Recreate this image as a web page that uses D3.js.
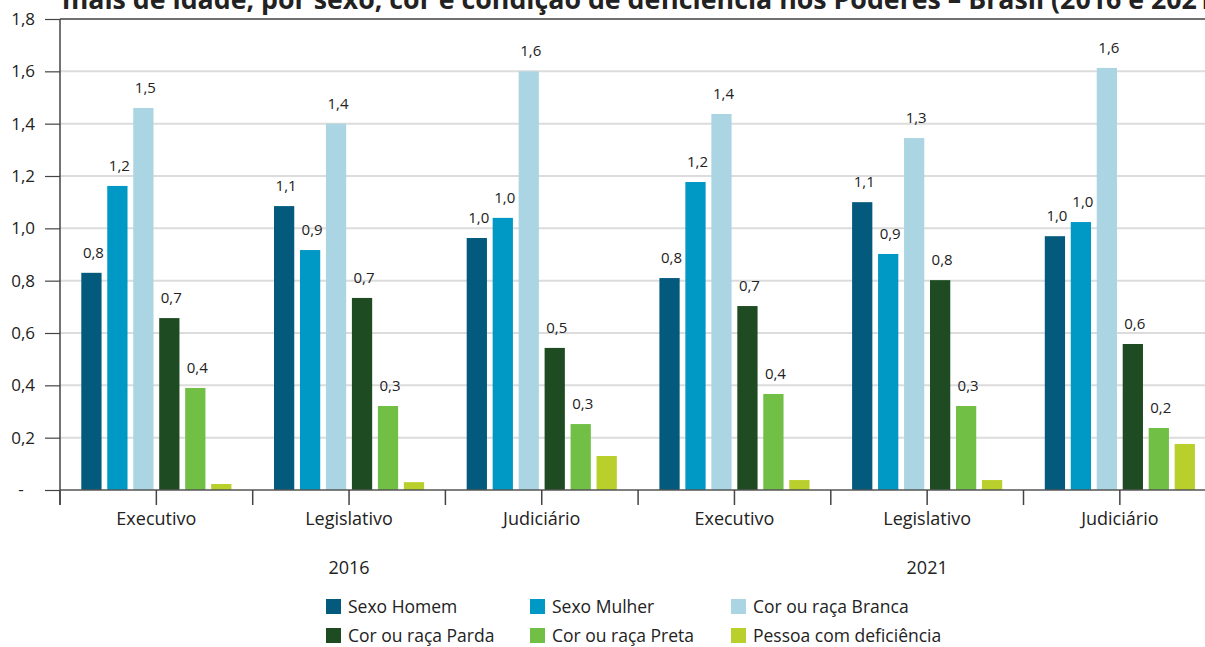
<!DOCTYPE html>
<html>
<head>
<meta charset="utf-8">
<script src="https://cdn.jsdelivr.net/npm/d3@7"></script>
<style>
  body { margin: 0; background: #fff; }
  svg { display: block; font-family: "Open Sans", sans-serif; }
</style>
</head>
<body>
<div class="chart"></div>
<script>
var svgWidth = 1205;
var svgHeight = 647;

// chart data
var poderes = ["Executivo", "Legislativo", "Judiciário", "Executivo", "Legislativo", "Judiciário"];
var anos = ["2016", "2021"];
var seriesNames = ["Sexo Homem", "Sexo Mulher", "Cor ou raça Branca", "Cor ou raça Parda", "Cor ou raça Preta", "Pessoa com deficiência"];
var homem = [0.83, 1.085, 0.963, 0.81, 1.10, 0.97];
var mulher = [1.162, 0.917, 1.04, 1.177, 0.902, 1.024];
var branca = [1.46, 1.40, 1.60, 1.437, 1.345, 1.613];
var parda = [0.657, 0.734, 0.543, 0.703, 0.802, 0.558];
var preta = [0.39, 0.321, 0.252, 0.367, 0.321, 0.237];
var deficiencia = [0.023, 0.03, 0.13, 0.038, 0.038, 0.176];
var yTicks = [0, 0.2, 0.4, 0.6, 0.8, 1.0, 1.2, 1.4, 1.6, 1.8];
var titleText = "mais de idade, por sexo, cor e condição de deficiência nos Poderes – Brasil (2016 e 2021)";

var colors = ["#035a7d", "#0098c4", "#acd5e3", "#1e4b21", "#72bf45", "#b9cf2b"];
var seriesValues = [homem, mulher, branca, parda, preta, deficiencia];
var showLabel = [true, true, true, true, true, false];

var margin = { top: 19, left: 60, bottom: 490 };
var groupWidth = 192.7;

var svg = d3.select(".chart")
  .append("svg")
  .attr("width", svgWidth)
  .attr("height", svgHeight);

// scales
var yScale = d3.scaleLinear()
  .domain([0, 1.8])
  .range([490, 19]);

var x0 = d3.scaleBand()
  .domain(d3.range(poderes.length))
  .range([margin.left, margin.left + groupWidth * poderes.length]);

var x1 = d3.scaleBand()
  .domain(d3.range(seriesNames.length))
  .range([0, groupWidth])
  .paddingInner(0.22)
  .paddingOuter(0.82);

// title (second line of the original title, cut at the top)
var title = svg.append("text")
  .attr("x", 62)
  .attr("y", 9)
  .attr("fill", "#222")
  .style("font-weight", "bold")
  .style("font-size", "20px")
  .text(titleText);
var tlen = title.node().getComputedTextLength();
title.style("font-size", (20 * 1160 / tlen) + "px");

// gridlines
svg.append("g")
  .selectAll("line")
  .data(yTicks.filter(d => d > 0 && d < 1.8))
  .enter()
  .append("line")
  .attr("x1", margin.left)
  .attr("x2", svgWidth)
  .attr("y1", d => yScale(d))
  .attr("y2", d => yScale(d))
  .attr("stroke", "#dcdcdc")
  .attr("stroke-width", 2);

// top line
svg.append("line")
  .attr("x1", margin.left)
  .attr("x2", svgWidth)
  .attr("y1", yScale(1.8))
  .attr("y2", yScale(1.8))
  .attr("stroke", "#707070")
  .attr("stroke-width", 2);

// y axis
var leftAxis = d3.axisLeft(yScale)
  .tickValues(yTicks)
  .tickSize(15)
  .tickFormat(d => d === 0 ? "" : d3.format(".1f")(d).replace(".", ","));

var yAxis = svg.append("g")
  .attr("transform", `translate(${margin.left}, 0)`)
  .call(leftAxis);
yAxis.select(".domain").remove();
yAxis.selectAll(".tick line").attr("stroke", "#444").attr("stroke-width", 1.2);
yAxis.selectAll(".tick text")
  .attr("x", -25)
  .attr("fill", "#222")
  .style("font-size", "17px")
  .style("font-family", "Open Sans");

svg.append("text")
  .attr("x", 21)
  .attr("y", yScale(0))
  .attr("dy", "0.32em")
  .attr("text-anchor", "middle")
  .attr("fill", "#222")
  .style("font-size", "17px")
  .text("-");

svg.append("line")
  .attr("x1", margin.left)
  .attr("x2", margin.left)
  .attr("y1", yScale(1.8))
  .attr("y2", 505)
  .attr("stroke", "#444")
  .attr("stroke-width", 1.5);

// bars
var groups = svg.append("g")
  .selectAll("g")
  .data(poderes)
  .enter()
  .append("g")
  .attr("transform", (d, i) => `translate(${x0(i)}, 0)`);

groups.each(function (p, gi) {
  var g = d3.select(this);
  seriesValues.forEach(function (vals, si) {
    var v = vals[gi];
    g.append("rect")
      .attr("x", x1(si))
      .attr("y", yScale(v))
      .attr("width", x1.bandwidth())
      .attr("height", yScale(0) - yScale(v))
      .attr("fill", colors[si]);
    if (showLabel[si]) {
      g.append("text")
        .attr("x", x1(si) + x1.bandwidth() / 2 + 2)
        .attr("y", yScale(v) - 15)
        .attr("text-anchor", "middle")
        .attr("fill", "#222")
        .style("font-size", "15px")
        .text(d3.format(".1f")(v).replace(".", ","));
    }
  });
});

// baseline
svg.append("line")
  .attr("x1", margin.left)
  .attr("x2", svgWidth)
  .attr("y1", yScale(0))
  .attr("y2", yScale(0))
  .attr("stroke", "#555")
  .attr("stroke-width", 1.5);

// category ticks: group edges and centers
var tickXs = [];
for (var k = 0; k <= poderes.length * 2; k++) {
  tickXs.push(margin.left + k * groupWidth / 2);
}
svg.append("g")
  .selectAll("line")
  .data(tickXs)
  .enter()
  .append("line")
  .attr("x1", d => d)
  .attr("x2", d => d)
  .attr("y1", yScale(0))
  .attr("y2", 505)
  .attr("stroke", "#444")
  .attr("stroke-width", 1.5);

// category labels
svg.append("g")
  .selectAll("text")
  .data(poderes)
  .enter()
  .append("text")
  .attr("x", (d, i) => x0(i) + x0.bandwidth() / 2)
  .attr("y", 525)
  .attr("text-anchor", "middle")
  .attr("fill", "#222")
  .style("font-size", "18px")
  .text(d => d);

// year labels
svg.append("g")
  .selectAll("text")
  .data(anos)
  .enter()
  .append("text")
  .attr("x", (d, i) => x0(i * 3) + x0.bandwidth() * 1.5)
  .attr("y", 574)
  .attr("text-anchor", "middle")
  .attr("fill", "#222")
  .style("font-size", "18px")
  .text(d => d);

// legend
var legendX = [326, 530, 731];
var legendY = [607, 636];
var legend = svg.append("g")
  .selectAll("g")
  .data(seriesNames)
  .enter()
  .append("g")
  .attr("transform", (d, i) => `translate(${legendX[i % 3]}, ${legendY[Math.floor(i / 3)]})`);

legend.append("rect")
  .attr("x", 0)
  .attr("y", -8)
  .attr("width", 15)
  .attr("height", 15)
  .attr("fill", (d, i) => colors[i]);

legend.append("text")
  .attr("x", 22)
  .attr("y", 0)
  .attr("dy", "0.35em")
  .attr("fill", "#222")
  .style("font-size", "17.5px")
  .text(d => d);
</script>
</body>
</html>
